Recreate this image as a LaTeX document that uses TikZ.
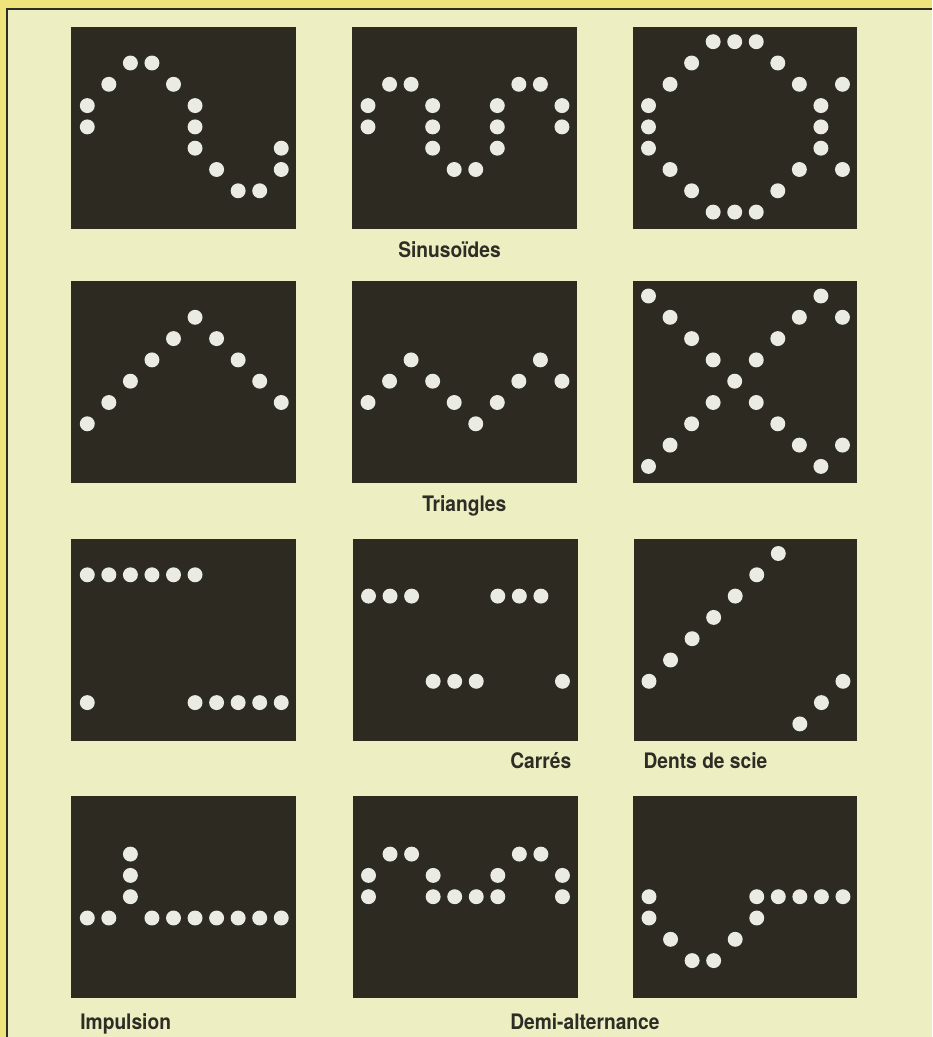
\documentclass[tikz,border=0pt]{standalone}
\usepackage{fontspec}
\setmainfont{TeX Gyre Heros}[FakeStretch=0.9]
\usepackage{tikz}
\usetikzlibrary{positioning}
\definecolor{rim}{HTML}{EFE47C}
\definecolor{paper}{HTML}{EDEFC3}
\definecolor{scrn}{HTML}{2D2A22}
\definecolor{spot}{HTML}{EAEBE2}
\definecolor{ink}{HTML}{2E2D25}

\begin{document}
\begin{tikzpicture}[x=0.75pt,y=-0.75pt,
  screen/.style={fill=scrn},
  spotdot/.style={fill=spot},
  lab/.style={anchor=base west,inner sep=0pt,text=ink,font=\fontsize{16}{19}\selectfont\bfseries}]
  \useasboundingbox (0,0) rectangle (932,1037);
  \fill[rim] (0,0) rectangle (932,1037);
  \fill[paper] (7,9) rectangle (932,1037);
  \draw[ink,line width=1.2pt] (7,1037) -- (7,9) -- (932,9);

  % row 1
  \begin{scope}[shift={(71.3,26.7)}]
  \fill[screen] (0,0) rectangle (224.5,202);
  \foreach \c/\r in {0/3,0/4,1/2,2/1,3/1,4/2,5/3,5/4,5/5,6/6,7/7,8/7,9/5,9/6}
     \fill[spotdot] ({16+21.55*\c},{15+21.3*\r}) circle (5.6pt);
  \end{scope}
  \begin{scope}[shift={(352,26.7)}]
  \fill[screen] (0,0) rectangle (224.5,202);
  \foreach \c/\r in {0/3,0/4,1/2,2/2,3/3,3/4,3/5,4/6,5/6,6/3,6/4,6/5,7/2,8/2,9/3,9/4}
     \fill[spotdot] ({16+21.55*\c},{15+21.3*\r}) circle (5.6pt);
  \end{scope}
  \begin{scope}[shift={(632.5,26.7)}]
  \fill[screen] (0,0) rectangle (224.5,202);
  \foreach \c/\r in {0/3,0/4,0/5,1/2,1/6,2/1,2/7,3/0,3/8,4/0,4/8,5/0,5/8,6/1,6/7,7/2,7/6,8/3,8/4,8/5,9/2,9/6}
     \fill[spotdot] ({16+21.55*\c},{15+21.3*\r}) circle (5.6pt);
  \end{scope}
  \node[lab] (sinus) at (398,257.7) {Sinusoïdes};

  % row 2
  \begin{scope}[shift={(71.3,281)}]
  \fill[screen] (0,0) rectangle (224.5,202);
  \foreach \c/\r in {0/6,1/5,2/4,3/3,4/2,5/1,6/2,7/3,8/4,9/5}
     \fill[spotdot] ({16+21.55*\c},{15+21.3*\r}) circle (5.6pt);
  \end{scope}
  \begin{scope}[shift={(352,281)}]
  \fill[screen] (0,0) rectangle (224.5,202);
  \foreach \c/\r in {0/5,1/4,2/3,3/4,4/5,5/6,6/5,7/4,8/3,9/4}
     \fill[spotdot] ({16+21.55*\c},{15+21.3*\r}) circle (5.6pt);
  \end{scope}
  \begin{scope}[shift={(632.5,281)}]
  \fill[screen] (0,0) rectangle (224.5,202);
  \foreach \c/\r in {0/0,0/8,1/1,1/7,2/2,2/6,3/3,3/5,4/4,5/3,5/5,6/2,6/6,7/1,7/7,8/0,8/8,9/1,9/7}
     \fill[spotdot] ({16+21.55*\c},{15+21.3*\r}) circle (5.6pt);
  \end{scope}
  \node[lab] (tri) at (422,511.7) {Triangles};

  % row 3
  \begin{scope}[shift={(71.3,538.5)}]
  \fill[screen] (0,0) rectangle (224.5,202);
  \foreach \c/\r in {0/1,1/1,2/1,3/1,4/1,5/1,0/7,5/7,6/7,7/7,8/7,9/7}
     \fill[spotdot] ({16+21.55*\c},{15+21.3*\r}) circle (5.6pt);
  \end{scope}
  \begin{scope}[shift={(352.5,538.5)}]
  \fill[screen] (0,0) rectangle (225.5,202);
  \foreach \c/\r in {0/2,1/2,2/2,6/2,7/2,8/2,3/6,4/6,5/6,9/6}
     \fill[spotdot] ({16+21.55*\c},{15+21.3*\r}) circle (5.6pt);
  \end{scope}
  \begin{scope}[shift={(634,538.5)}]
  \fill[screen] (0,0) rectangle (223,202);
  \foreach \c/\r in {0/6,1/5,2/4,3/3,4/2,5/1,6/0,7/8,8/7,9/6}
     \fill[spotdot] ({15+21.55*\c},{15+21.3*\r}) circle (5.6pt);
  \end{scope}
  \node[lab] (carres) at (510,768.7) {Carrés};
  \node[lab] (dents) at (643.3,768.7) {Dents de scie};

  % row 4
  \begin{scope}[shift={(71.3,796)}]
  \fill[screen] (0,0) rectangle (224.5,201.5);
  \foreach \c/\r in {2/2,2/3,2/4,0/5,1/5,3/5,4/5,5/5,6/5,7/5,8/5,9/5}
     \fill[spotdot] ({16+21.55*\c},{15.5+21.3*\r}) circle (5.6pt);
  \end{scope}
  \begin{scope}[shift={(352.5,796)}]
  \fill[screen] (0,0) rectangle (225,201.5);
  \foreach \c/\r in {0/3,0/4,1/2,2/2,3/3,3/4,4/4,5/4,6/3,6/4,7/2,8/2,9/3,9/4}
     \fill[spotdot] ({16+21.55*\c},{15.5+21.3*\r}) circle (5.6pt);
  \end{scope}
  \begin{scope}[shift={(633,796)}]
  \fill[screen] (0,0) rectangle (224,201.5);
  \foreach \c/\r in {0/4,0/5,1/6,2/7,3/7,4/6,5/5,5/4,6/4,7/4,8/4,9/4}
     \fill[spotdot] ({16+21.55*\c},{15.5+21.3*\r}) circle (5.6pt);
  \end{scope}
  \node[lab] (impuls) at (80,1029.3) {Impulsion};
  \node[lab] (demi) at (510,1029.3) {Demi-alternance};
\end{tikzpicture}
\end{document}
